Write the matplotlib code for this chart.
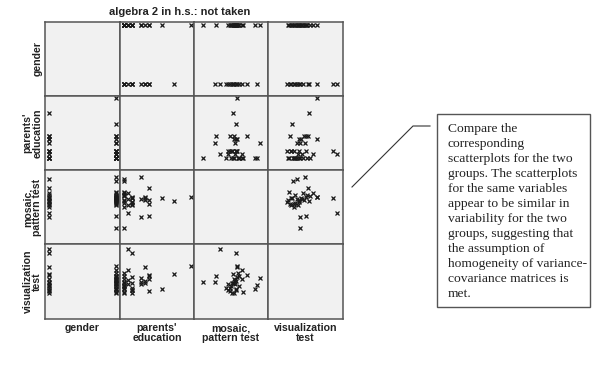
import numpy as np
import matplotlib.pyplot as plt
from matplotlib.lines import Line2D
from matplotlib.patches import Rectangle

# Variables (scatterplot matrix order)
var_labels = ["gender", "parents'\neducation", "mosaic,\npattern test", "visualization\ntest"]

# One row per student: algebra 2 in h.s. = not taken
gender = [0, 0, 0, 0, 0, 0, 0, 0, 0, 0, 0, 0, 0, 0,
          1, 1, 1, 1, 1, 1, 1, 1, 1, 1, 1, 1, 1, 1, 1, 1, 1, 1, 1, 1, 1, 1]
parents_ed = [2.5, 3, 4.5, 8, 5, 2, 5, 4.5, 2, 3, 2, 4, 3, 2,
              10, 6.5, 2, 4, 2, 2, 2, 2.5, 3, 2, 3, 4, 4.5, 5, 2.5, 2, 3, 2, 5, 2.5, 3, 2]
mosaic = [14.5, 30, 31, 27, 40, 50, 24, 28, 20, 26, 33, 10, 22, 35,
          31, 30, -1.5, 52, 48, 25, 27, 29, 31, 33, 24, 29, 30, 28, 35, 32, 26, 36, 11, 22, 30, 28]
visual = [14.3, 13.0, 8.3, 6.0, 5.7, 2.4, 0.5, 3.0, 1.5, -0.3, 2.0, 3.5, 0.8, 4.3,
          8.5, 1.0, 3.4, 4.8, 1.2, 2.0, 3.0, 4.0, 5.0, 5.5, 1.5, 2.6, 3.8, 4.5, 7.2, 6.3, 3.2, 0.2, 5.2, 2.8, 0.6, -0.2]

data = [gender, parents_ed, mosaic, visual]
xlims = [(-0.06, 1.06), (1.52, 10.36), (-10, 60), (-6, 16)]

fig = plt.figure(figsize=(6.05, 3.69), dpi=100)
W, H = 605, 369
col_edges = [45, 120, 194, 268, 343]
row_edges = [22, 96, 170, 244, 319]

plt.rcParams['font.family'] = ['Liberation Sans', 'DejaVu Sans']

for i in range(4):
    for j in range(4):
        x0, x1 = col_edges[j], col_edges[j + 1]
        y0, y1 = row_edges[i], row_edges[i + 1]
        ax = fig.add_axes([x0 / W, 1 - y1 / H, (x1 - x0) / W, (y1 - y0) / H])
        ax.set_facecolor('#f1f1f1')
        for s in ax.spines.values():
            s.set_color('#555555')
            s.set_linewidth(1.1)
        ax.set_xticks([])
        ax.set_yticks([])
        lo, hi = xlims[j]
        ax.set_xlim(lo, hi)
        ylo_, yhi_ = xlims[i]
        span = yhi_ - ylo_
        ylo = ylo_ - 0.125 * span
        ax.set_ylim(ylo, ylo + span / 0.895)
        if i != j:
            ax.plot(data[j], data[i], 'x', color='#1a1a1a', ms=3.4, mew=0.9)
        if i == 3:
            ax.set_xlabel(var_labels[j], fontsize=7.6, fontweight='bold', labelpad=3,
                          linespacing=0.95, color='#222222')
        if j == 0:
            ax.set_ylabel(var_labels[i], fontsize=7.6, fontweight='bold', labelpad=2,
                          linespacing=0.95, color='#222222')

fig.text(180 / W, 1 - 12 / H, "algebra 2 in h.s.: not taken", ha='center', va='center',
         fontsize=8, fontweight='bold', color='#222222')

# callout
fig.add_artist(Line2D([352 / W, 413 / W, 430 / W], [1 - 187 / H, 1 - 126 / H, 1 - 126 / H],
                      color='#333333', lw=0.8, transform=fig.transFigure))
fig.add_artist(Rectangle((437 / W, 1 - 307 / H), 153 / W, 193 / H, fill=False,
                         edgecolor='#555555', lw=1.0, transform=fig.transFigure))
note = ("Compare the\ncorresponding\nscatterplots for the two\ngroups. The scatterplots\n"
        "for the same variables\nappear to be similar in\nvariability for the two\n"
        "groups, suggesting that\nthe assumption of\nhomogeneity of variance-\n"
        "covariance matrices is\nmet.")
fig.text(448 / W, 1 - 123 / H, note, ha='left', va='top', fontsize=9.7,
         family=['Liberation Serif', 'DejaVu Serif'], linespacing=1.33, color='#222222')

fig.savefig('out.png', dpi=100)
